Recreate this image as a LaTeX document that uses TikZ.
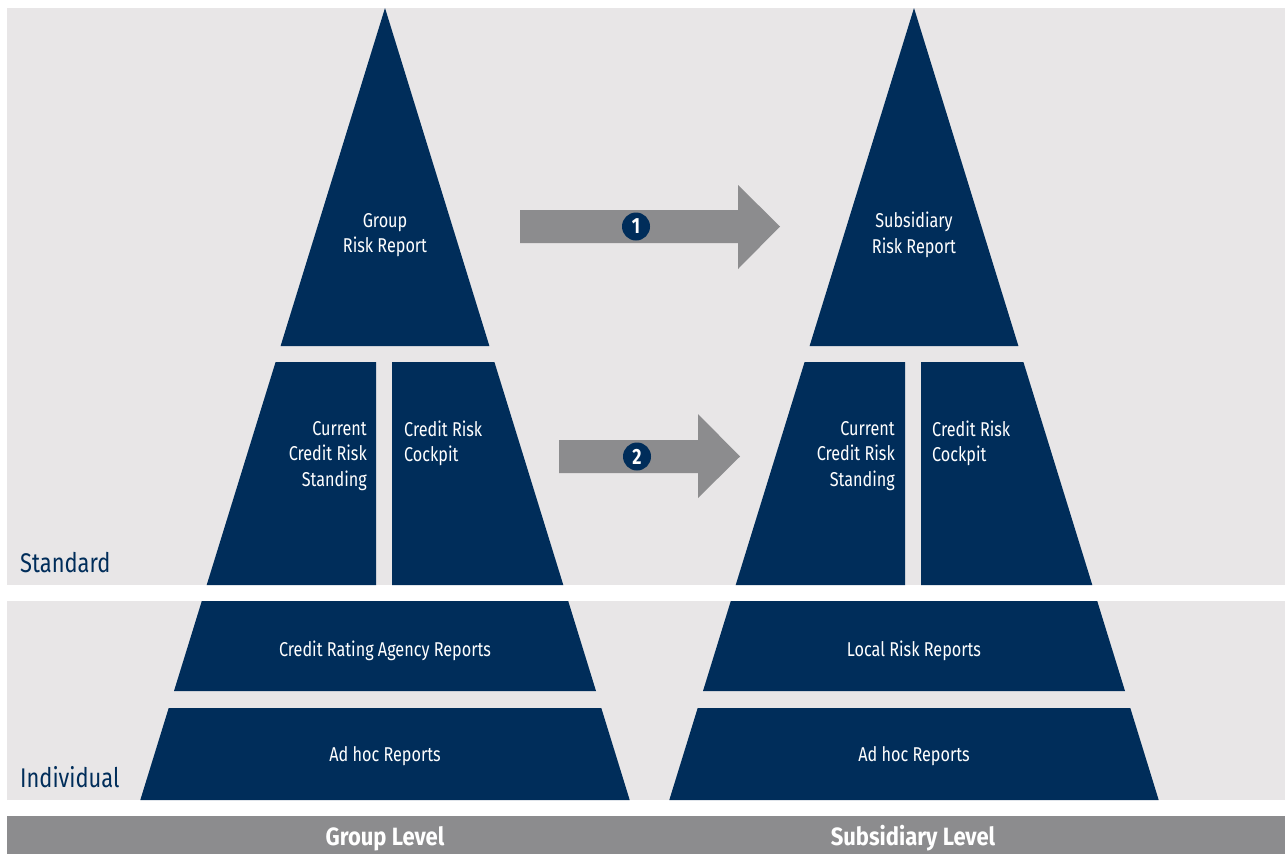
\documentclass[tikz,border=0pt]{standalone}
\usepackage{fontspec}
\setmainfont{Fira Sans}[FakeStretch=0.81]
\newfontfamily\levelfont{Fira Sans}[FakeStretch=0.88]
\definecolor{navy}{HTML}{002D5A}
\definecolor{panel}{HTML}{E8E6E7}
\definecolor{bar}{HTML}{8C8C8E}

\begin{document}
\begin{tikzpicture}[x=1pt,y=-1pt,
  block/.style={fill=navy},
  bigarrow/.style={fill=bar},
  inner/.style={text=white,inner sep=0pt,font=\fontsize{20}{25.5}\selectfont},
  side/.style={text=navy,inner sep=0pt,anchor=base west,font=\fontsize{27}{30}\selectfont},
  level/.style={text=white,inner sep=0pt,anchor=base,font=\levelfont\fontsize{25}{28}\selectfont\bfseries},
  badge/.style={circle,fill=navy,text=white,inner sep=0pt,minimum size=28pt,font=\fontsize{22}{24}\selectfont\bfseries}]
\useasboundingbox (0,0) rectangle (1285,854);
\fill[white] (0,0) rectangle (1285,854);

% background bands
\fill[panel] (7,8) rectangle (1285,585);
\fill[panel] (7,601) rectangle (1285,800);
\fill[bar] (7,816) rectangle (1285,854);

% the two report pyramids
\foreach \cx in {385,914}{
  \begin{scope}[xshift=\cx pt]
    \fill[block] (0,8) -- (-104.4,346) -- (104.4,346) -- cycle;
    \fill[block] (-109.4,362) -- (-9,362) -- (-9,585) -- (-178.3,585) -- cycle;
    \fill[block] (7,362) -- (109.4,362) -- (178.3,585) -- (7,585) -- cycle;
    \fill[block] (-183.2,601) -- (183.2,601) -- (211,691) -- (-211,691) -- cycle;
    \fill[block] (-216.3,708) -- (216.3,708) -- (244.7,800) -- (-244.7,800) -- cycle;
  \end{scope}
}

% group level texts
\node[inner,align=center] (gtop) at (385,235) {Group\\Risk Report};
\node[inner,align=right,anchor=east] (gcur) at (367,456) {Current\\Credit Risk\\Standing};
\node[inner,align=left,anchor=west] (gcock) at (404,443.5) {Credit Risk\\Cockpit};
\node[inner] (gcra) at (385,651) {Credit Rating Agency Reports};
\node[inner] (gadhoc) at (385,756) {Ad hoc Reports};

% subsidiary level texts
\node[inner,align=center] (stop) at (914,235) {Subsidiary\\Risk Report};
\node[inner,align=right,anchor=east] (scur) at (895,456) {Current\\Credit Risk\\Standing};
\node[inner,align=left,anchor=west] (scock) at (932,443.5) {Credit Risk\\Cockpit};
\node[inner] (slocal) at (914,651) {Local Risk Reports};
\node[inner] (sadhoc) at (914,756) {Ad hoc Reports};

% band labels
\node[side] (standard) at (20,572) {Standard};
\node[side] (individual) at (20,787) {Individual};
\node[level] (grouplevel) at (385,845) {Group Level};
\node[level] (sublevel) at (913,845) {Subsidiary Level};

% transfer arrows with their step numbers
\fill[bigarrow] (520,210) -- (738,210) -- (738,185) -- (780,226.5) -- (738,269) -- (738,243) -- (520,243) -- cycle;
\fill[bigarrow] (559,440) -- (698,440) -- (698,414) -- (740,456.5) -- (698,498) -- (698,473) -- (559,473) -- cycle;
\node[badge] (one) at (636,226.5) {1};
\node[badge] (two) at (637,456.5) {2};
\end{tikzpicture}
\end{document}
